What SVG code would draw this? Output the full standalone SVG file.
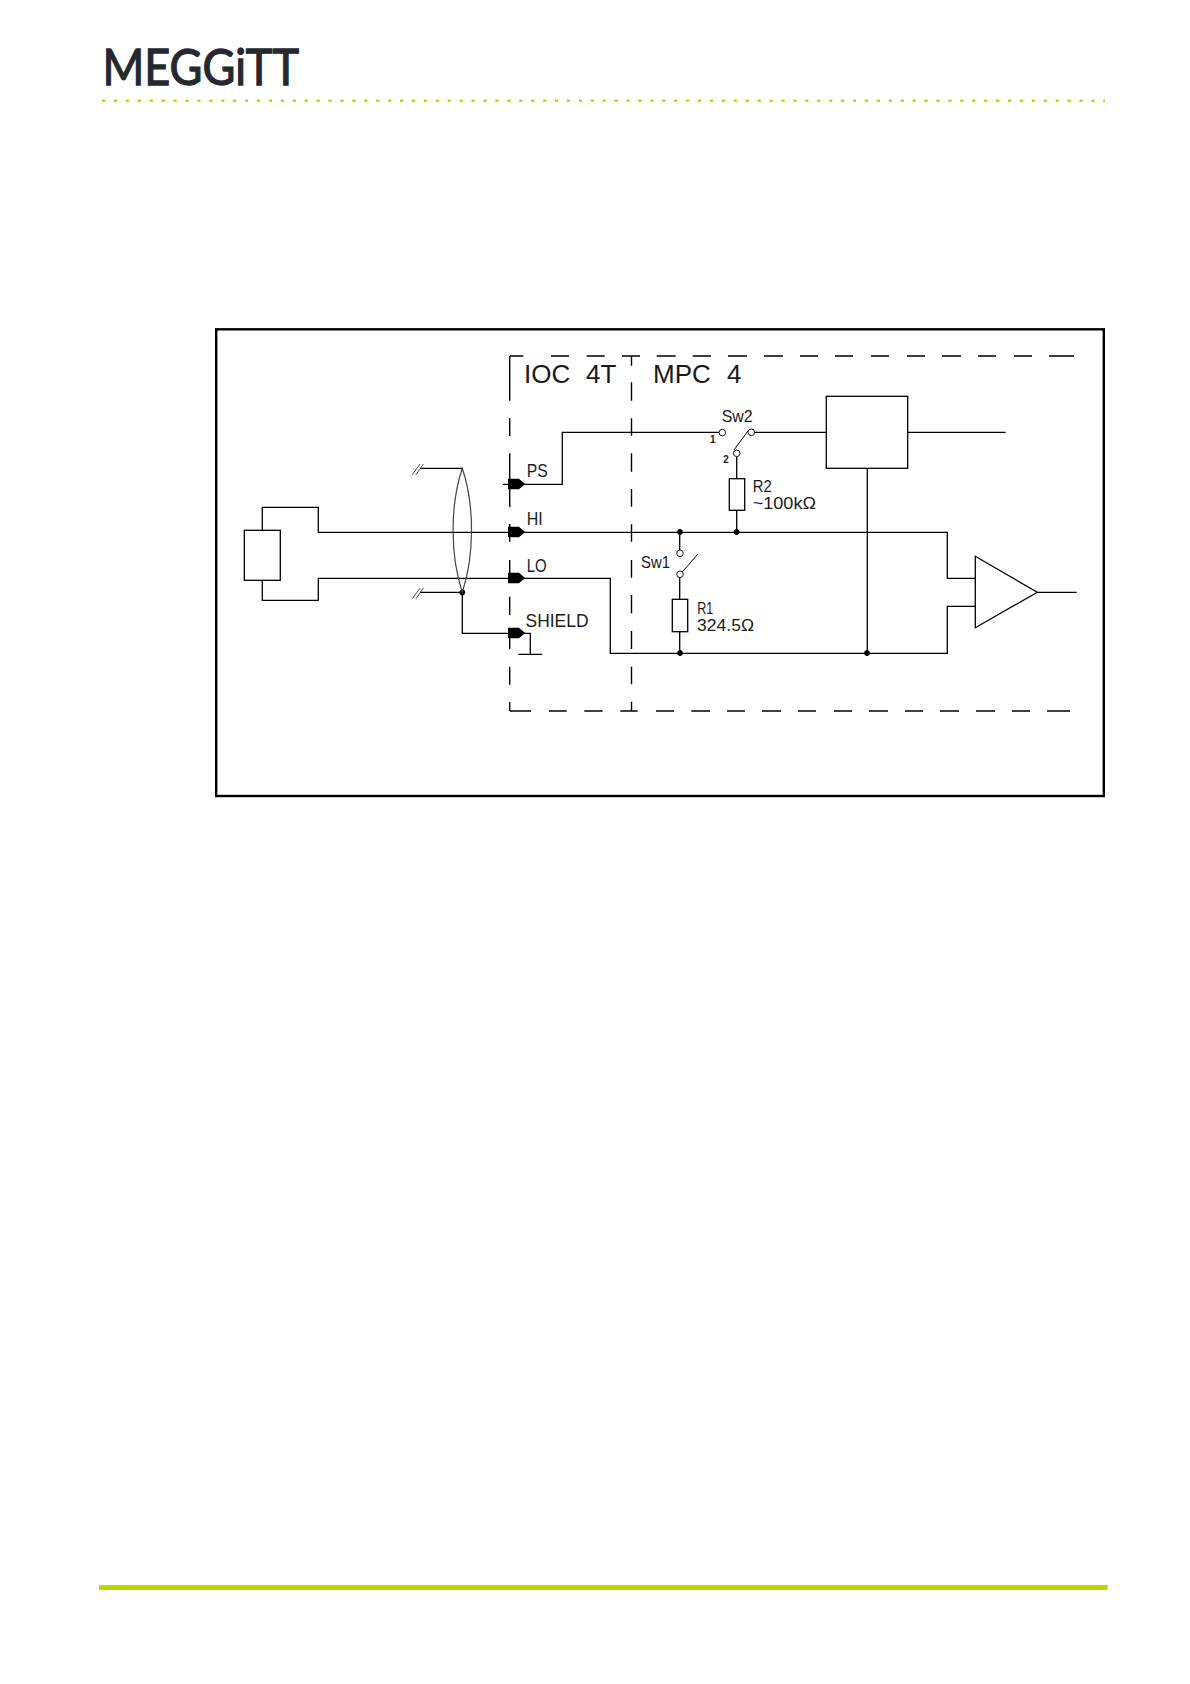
<svg xmlns="http://www.w3.org/2000/svg" width="1190" height="1684" viewBox="0 0 1190 1684">
<style>
text{font-family:"Liberation Sans",Arial,sans-serif;fill:#1a1a1a}
.w{fill:none;stroke:#000;stroke-width:1.3}
.d{fill:none;stroke:#000;stroke-width:1.4}
.b{fill:#fff;stroke:#000;stroke-width:1.3}
.t{fill:#000}
.o{fill:#fff;stroke:#111;stroke-width:1}
.big{font-size:26px}.m{font-size:18px}.s{font-size:17px}.x{font-size:10px;font-weight:bold}
</style>
<defs>
<path id="tag" class="t" d="M0-4.5H10L15.5 0 10 4.5H0Z"/>
<path id="brk" fill="none" stroke="#333" stroke-width=".9" d="M-7.7 6.4 0-4.2M-4 6.4 3.3-4.2"/>
<circle id="dot" class="t" r="2.3"/>
</defs>
<rect width="1190" height="1684" fill="#fff"/>
<g id="header">
<text x="102.5" y="84.6" font-size="51" textLength="196.5" lengthAdjust="spacingAndGlyphs" stroke="#24292e" stroke-width="1.3" style="font-family:'Lato','Liberation Sans',sans-serif;fill:#24292e">MEGGiTT</text>
<line x1="102" y1="100.7" x2="1105" y2="100.7" stroke="#c4d600" stroke-width="2.4" stroke-dasharray="3.2 8.72"/>
</g>
<rect id="frame" x="216.2" y="329.3" width="887.6" height="466.7" fill="none" stroke="#000" stroke-width="2.4"/>
<g id="boundaries" class="d">
<path d="M510 356H523.3M551 356H569M586.7 356H604.7M622 356H640M656.7 356H675.7M692.7 356H711M728 356H747M764 356H783M800 356H818M835 356H853M871 356H889M907 356H925M942 356H961M978 356H996M1014 356H1032M1049 356H1074"/>
<path d="M510 711H531M549 711H566.7M584.3 711H602.7M620.3 711H637.7M656 711H674M691.3 711H710M727 711H745M762 711H781M798 711H816M834 711H852M869 711H888M905 711H923M940 711H959M976 711H995M1012 711H1030M1047 711H1070"/>
<path d="M509.7 356V400.7M509.7 418V436M509.7 453.3V481M509.7 488V507M509.7 524V542M509.7 560V578M509.7 596.7V615M509.7 631V649M509.7 666.7V684.7M509.7 702V711"/>
<path d="M631.5 356V365.7M631.5 382.3V400.7M631.5 418.3V435.7M631.5 453.3V471.7M631.5 489V506.7M631.5 524.3V541.7M631.5 560V577.7M631.5 595V613.3M631.5 631V649M631.5 666.7V684.3M631.5 701.7V711"/>
</g>
<g id="connectors" class="w">
<path d="M502.7 484.3H562.3V432.3H719"/>
<path d="M754.6 432.3H826.3"/>
<path d="M907.7 432.3H1005.7"/>
<path d="M262.3 530.3V507.3H318.3V532.3H947.3V578.3H975.3"/>
<path d="M262.3 580.3V600.3H318.3V578.3H610.3V653.3H947.3V606.3H975.3"/>
<path d="M1037.3 592.3H1076.7"/>
<path d="M867.3 468.3V653.3"/>
<path d="M420 468.3H462.3M420 592.3H462.3V633.3H530.3V654.3M518.3 654.3H542"/>
<path d="M736.7 456.6V478.7M736.7 510.3V532.3"/>
<path d="M679.7 532.3V550M679.7 577.6V599.3M679.7 631.7V653.3"/>
<path d="M734 450 748.7 430M682.3 572 697.7 554.3" stroke-width="1"/>
<use href="#tag" x="508.7" y="484"/>
<use href="#tag" x="508.7" y="532"/>
<use href="#tag" x="508.7" y="578"/>
<use href="#tag" x="508.7" y="633"/>
<use href="#dot" x="462.3" y="592.3"/>
<use href="#dot" x="680" y="532"/>
<use href="#dot" x="736.7" y="532"/>
<use href="#dot" x="680" y="653"/>
<use href="#dot" x="867" y="653"/>
<use href="#brk" x="420" y="468.3"/>
<use href="#brk" x="420" y="592.3"/>
</g>
<g id="shield-lens"><path d="M462.3 468.3C450 505 450 555 462.3 592.3C474.6 555 474.6 505 462.3 468.3Z" fill="none" stroke="#444" stroke-width="1.2"/></g>
<g id="sensor"><rect class="b" x="244.3" y="530.3" width="36" height="50"/></g>
<g id="block"><rect class="b" x="826.3" y="396.3" width="81.4" height="72"/></g>
<g id="amplifier"><path class="b" d="M975.3 556.3V627.7L1037.3 592.3Z"/></g>
<g id="r2"><rect class="b" x="729.3" y="478.7" width="15.4" height="31.6"/><text class="s" x="752.7" y="491.7" textLength="19" lengthAdjust="spacingAndGlyphs">R2</text><text class="s" x="752.7" y="509.3" textLength="63.3" lengthAdjust="spacingAndGlyphs">~100kΩ</text></g>
<g id="r1"><rect class="b" x="672.3" y="599.3" width="15.4" height="32.4"/><text class="s" x="697.3" y="614.3" textLength="16" lengthAdjust="spacingAndGlyphs">R1</text><text class="s" x="697" y="631" textLength="57" lengthAdjust="spacingAndGlyphs">324.5Ω</text></g>
<g id="sw2"><circle class="o" cx="722.3" cy="432.6" r="3.3"/><circle class="o" cx="751.3" cy="432.3" r="3.3"/><circle class="o" cx="736.7" cy="453.3" r="3.3"/><text class="s" x="721.7" y="422" textLength="31" lengthAdjust="spacingAndGlyphs">Sw2</text><text class="x" x="710" y="442.7">1</text><text class="x" x="723.3" y="463.3">2</text></g>
<g id="sw1"><circle class="o" cx="680" cy="553.3" r="3.3"/><circle class="o" cx="680" cy="574.3" r="3.3"/><text class="s" x="641" y="568.3" textLength="29" lengthAdjust="spacingAndGlyphs">Sw1</text></g>
<g id="labels">
<text class="big" x="524" y="383">IOC <tspan x="586">4T</tspan></text>
<text class="big" x="653" y="383">MPC <tspan x="727">4</tspan></text>
<text class="m" x="526.7" y="477" textLength="21" lengthAdjust="spacingAndGlyphs">PS</text>
<text class="m" x="526.7" y="525" textLength="16" lengthAdjust="spacingAndGlyphs">HI</text>
<text class="m" x="526.7" y="571.7" textLength="20" lengthAdjust="spacingAndGlyphs">LO</text>
<text class="m" x="525.5" y="626.7" textLength="63" lengthAdjust="spacingAndGlyphs">SHIELD</text>
</g>
<rect id="footer" x="99" y="1585" width="1008.7" height="5" fill="#c4d600"/>
</svg>
